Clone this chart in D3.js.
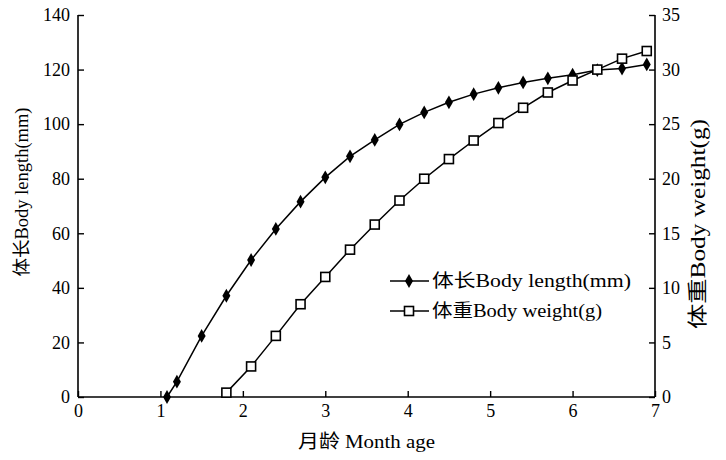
<!DOCTYPE html>
<html><head><meta charset="utf-8">
<script src="https://cdn.jsdelivr.net/npm/d3@7"></script>
<style>
body{margin:0;background:#fff;}
text{font-family:"Liberation Serif","Noto Sans CJK SC",serif;fill:#000;}
</style></head>
<body><svg id="c" width="726" height="460"></svg>
<script>
const lengthMonths = [1.08, 1.2, 1.5, 1.8, 2.1, 2.4, 2.7, 3.0, 3.3, 3.6, 3.9, 4.2, 4.5, 4.8, 5.1, 5.4, 5.7, 6.0, 6.3, 6.6, 6.9];
const bodyLength = [0, 5.6, 22.4, 37.1, 50.2, 61.6, 71.6, 80.5, 88.2, 94.2, 99.9, 104.3, 108, 111, 113.3, 115.3, 116.8, 118.1, 119.8, 120.4, 121.9];
const weightMonths = [1.8, 2.1, 2.4, 2.7, 3.0, 3.3, 3.6, 3.9, 4.2, 4.5, 4.8, 5.1, 5.4, 5.7, 6.0, 6.3, 6.6, 6.9];
const bodyWeight = [0.4, 2.8, 5.6, 8.5, 11.0, 13.5, 15.8, 18.0, 20.0, 21.8, 23.5, 25.1, 26.5, 27.9, 29.0, 30.0, 31.0, 31.7];
const xTicks = [0,1,2,3,4,5,6,7];
const yLeftTicks = [0,20,40,60,80,100,120,140];
const yRightTicks = [0,5,10,15,20,25,30,35];
const xTitle = "月龄 Month age";
const yLeftTitle = "体长Body length(mm)";
const yRightTitle = "体重Body weight(g)";
const legendLabels = ["体长Body length(mm)", "体重Body weight(g)"];

const svg = d3.select("#c");
const L = 78, R = 655, T = 15, B = 397;
const x = d3.scaleLinear().domain([0,7]).range([L,R]);
const yL = d3.scaleLinear().domain([0,140]).range([B,T]);
const yR = d3.scaleLinear().domain([0,35]).range([B,T]);
const fs = 18;

// axes
const gx = svg.append("g").attr("transform",`translate(0,${B})`)
  .call(d3.axisBottom(x).tickValues(xTicks).tickSize(-6).tickPadding(7).tickFormat(d3.format("d")));
const gl = svg.append("g").attr("transform",`translate(${L},0)`)
  .call(d3.axisLeft(yL).tickValues(yLeftTicks).tickSize(-6).tickPadding(8).tickFormat(d3.format("d")));
const gr = svg.append("g").attr("transform",`translate(${R},0)`)
  .call(d3.axisRight(yR).tickValues(yRightTicks).tickSize(-6).tickPadding(7).tickFormat(d3.format("d")));
[gx,gl,gr].forEach(g=>{
  g.select(".domain").attr("stroke","#000").attr("stroke-width",1.6);
  g.selectAll(".tick line").attr("stroke","#000").attr("stroke-width",1.4);
  g.selectAll("text").attr("font-family",'"Liberation Serif",serif').attr("font-size",fs).attr("fill","#000");
});
gx.select(".domain").attr("d",`M${L},0H${R}`);
gl.select(".domain").attr("d",`M0,${T}V${B}`);
gr.select(".domain").attr("d",`M0,${T}V${B}`);

// titles
svg.append("text").attr("x",(L+R)/2).attr("y",448).attr("text-anchor","middle")
  .attr("font-size",19).attr("textLength",137).attr("lengthAdjust","spacingAndGlyphs").text(xTitle);
svg.append("text").attr("transform",`translate(22,192) rotate(-90)`).attr("text-anchor","middle").attr("dy","0.35em")
  .attr("font-size",fs).attr("textLength",169).attr("lengthAdjust","spacingAndGlyphs").text(yLeftTitle);
svg.append("text").attr("transform",`translate(698,224) rotate(-90)`).attr("text-anchor","middle").attr("dy","0.35em")
  .attr("font-size",20).attr("textLength",210).attr("lengthAdjust","spacingAndGlyphs").text(yRightTitle);

// lines
const lenData = lengthMonths.map((m,i)=>[m,bodyLength[i]]);
const wData = weightMonths.map((m,i)=>[m,bodyWeight[i]]);
svg.append("path").datum(lenData).attr("fill","none").attr("stroke","#000").attr("stroke-width",1.5)
  .attr("d",d3.line().x(d=>x(d[0])).y(d=>yL(d[1])));
svg.append("path").datum(wData).attr("fill","none").attr("stroke","#000").attr("stroke-width",1.5)
  .attr("d",d3.line().x(d=>x(d[0])).y(d=>yR(d[1])));

const diamond = d3.symbol().type(d3.symbolDiamond).size(55);
svg.append("g").selectAll("path").data(lenData).join("path")
  .attr("transform",d=>`translate(${x(d[0])},${yL(d[1])})`).attr("d",diamond()).attr("fill","#000");
svg.append("g").selectAll("rect").data(wData).join("rect")
  .attr("x",d=>x(d[0])-4.5).attr("y",d=>yR(d[1])-4.5).attr("width",9).attr("height",9)
  .attr("fill","#fff").attr("stroke","#000").attr("stroke-width",1.6);

// legend
const lg = svg.append("g");
const rows = [281, 311];
rows.forEach((ry,i)=>{
  lg.append("line").attr("x1",390).attr("x2",429).attr("y1",ry).attr("y2",ry).attr("stroke","#000").attr("stroke-width",1.6);
  if(i===0) lg.append("path").attr("transform",`translate(409,${ry})`).attr("d",diamond()).attr("fill","#000");
  else lg.append("rect").attr("x",404.5).attr("y",ry-4.5).attr("width",9).attr("height",9).attr("fill","#fff").attr("stroke","#000").attr("stroke-width",1.6);
  lg.append("text").attr("x",432).attr("y",ry).attr("dy","0.35em").attr("font-size",fs)
    .attr("textLength", i===0?199:170).attr("lengthAdjust","spacingAndGlyphs").text(legendLabels[i]);
});
</script></body></html>
